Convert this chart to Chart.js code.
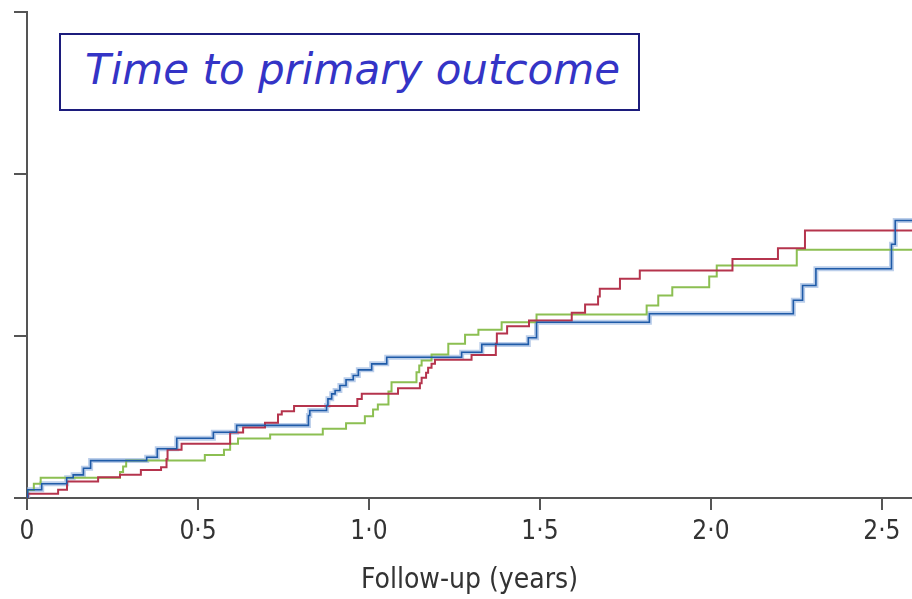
<!DOCTYPE html>
<html>
<head>
<meta charset="utf-8">
<script src="https://cdn.jsdelivr.net/npm/chart.js@4.4.0/dist/chart.umd.min.js"></script>
<style>
  body { margin: 0; background: #fff; }
  #wrap { position: relative; width: 912px; height: 599px; }
  #title {
    position: absolute; left: 59px; top: 33px; width: 581px; height: 78px;
    box-sizing: border-box; border: 2px solid #1c1c7c; background: #fff;
    font: italic 42px "DejaVu Sans", sans-serif; color: #3434c6;
    padding-left: 24px; line-height: 70px; white-space: nowrap;
  }
</style>
</head>
<body>
<div id="wrap">
  <canvas id="chart"></canvas>
  <div id="title">Time to primary outcome</div>
</div>
<script>
// Follow-up times (years) and cumulative risk (%)
const blueTime = [0, 0.002, 0.043, 0.116, 0.135, 0.165, 0.186, 0.350, 0.381, 0.438, 0.545, 0.613, 0.823, 0.827, 0.876, 0.880, 0.891, 0.901, 0.915, 0.933, 0.954, 0.969, 1.008, 1.052, 1.271, 1.330, 1.466, 1.490, 1.820, 2.241, 2.268, 2.307, 2.528, 2.539, 2.588];
const blueRisk = [0, 0.51, 0.88, 1.25, 1.43, 1.84, 2.31, 2.52, 3.04, 3.69, 4.06, 4.48, 5.09, 5.40, 5.71, 6.12, 6.43, 6.64, 6.94, 7.30, 7.56, 7.91, 8.28, 8.69, 9.00, 9.48, 9.89, 10.85, 11.37, 12.21, 13.12, 14.15, 15.66, 17.13, 17.13];

const redTime = [0, 0.003, 0.091, 0.117, 0.208, 0.272, 0.333, 0.392, 0.408, 0.411, 0.452, 0.594, 0.632, 0.696, 0.734, 0.745, 0.781, 0.966, 0.979, 1.085, 1.149, 1.154, 1.167, 1.173, 1.183, 1.193, 1.300, 1.371, 1.374, 1.404, 1.468, 1.593, 1.632, 1.670, 1.675, 1.734, 1.792, 2.063, 2.196, 2.275, 2.588];
const redRisk = [0, 0.26, 0.51, 1.02, 1.28, 1.43, 1.73, 1.90, 2.41, 2.98, 3.35, 4.04, 4.35, 4.64, 5.15, 5.36, 5.68, 6.11, 6.43, 6.78, 7.09, 7.42, 7.73, 8.04, 8.28, 8.53, 8.83, 9.52, 10.15, 10.60, 10.96, 11.43, 11.94, 12.44, 12.91, 13.53, 14.04, 14.75, 15.42, 16.51, 16.51];

const greenTime = [0, 0.002, 0.020, 0.040, 0.272, 0.281, 0.290, 0.520, 0.576, 0.594, 0.617, 0.711, 0.865, 0.933, 0.988, 1.012, 1.026, 1.057, 1.066, 1.139, 1.147, 1.154, 1.183, 1.232, 1.281, 1.320, 1.388, 1.490, 1.812, 1.846, 1.887, 1.995, 2.017, 2.251, 2.588];
const greenRisk = [0, 0.5, 0.88, 1.25, 1.6, 1.95, 2.31, 2.65, 2.98, 3.35, 3.67, 3.92, 4.27, 4.62, 5.05, 5.46, 5.77, 6.57, 7.15, 7.77, 8.18, 8.49, 8.86, 9.52, 10.07, 10.38, 10.85, 11.33, 11.88, 12.50, 13.01, 13.67, 14.35, 15.32, 15.32];

const xTicks = [0, 0.5, 1.0, 1.5, 2.0, 2.5];
const yTicks = [0, 10, 20, 30];

function toPoints(times, risks) {
  return times.map((t, i) => ({ x: t, y: risks[i] }));
}

function stepLine(times, risks, color, width, order) {
  return {
    data: toPoints(times, risks),
    borderColor: color,
    borderWidth: width,
    stepped: true,
    pointRadius: 0,
    fill: false,
    order: order
  };
}

const axisColor = '#555555';
const fontFamily = '"DejaVu Sans Condensed", "Liberation Sans Narrow", "Open Sans", sans-serif';

new Chart(document.getElementById('chart'), {
  type: 'line',
  data: {
    datasets: [
      stepLine(blueTime, blueRisk, 'rgba(150,180,222,0.65)', 5, 4),
      stepLine(greenTime, greenRisk, '#8cbf52', 2, 3),
      stepLine(redTime, redRisk, '#b5344d', 2, 2),
      stepLine(blueTime, blueRisk, '#1f5ba8', 1.6, 1)
    ]
  },
  options: {
    responsive: true,
    maintainAspectRatio: false,
    animation: false,
    layout: { padding: { top: 12, right: 0, left: 0, bottom: 0 } },
    plugins: { legend: { display: false }, tooltip: { enabled: false } },
    scales: {
      x: {
        type: 'linear',
        min: 0,
        max: 2.588,
        afterFit: s => { s.height = 101; },
        afterBuildTicks: s => { s.ticks = xTicks.map(v => ({ value: v })); },
        ticks: {
          includeBounds: false,
          padding: 7,
          color: '#333333',
          font: { family: fontFamily, size: 26 },
          callback: v => v === 0 ? '0' : v.toFixed(1).replace('.', '\u00b7')
        },
        grid: { drawOnChartArea: false, tickLength: 12, color: axisColor, lineWidth: 2 },
        border: { color: axisColor, width: 2 },
        title: {
          display: true,
          text: 'Follow-up (years)',
          color: '#333333',
          font: { family: fontFamily, size: 28 },
          padding: { top: 0, bottom: 1 }
        }
      },
      y: {
        min: 0,
        max: 30,
        afterFit: s => { s.width = 27; },
        afterBuildTicks: s => { s.ticks = yTicks.map(v => ({ value: v })); },
        ticks: { display: false },
        grid: { drawOnChartArea: false, tickLength: 13, color: axisColor, lineWidth: 2 },
        border: { color: axisColor, width: 2 }
      }
    }
  }
});
</script>
</body>
</html>
